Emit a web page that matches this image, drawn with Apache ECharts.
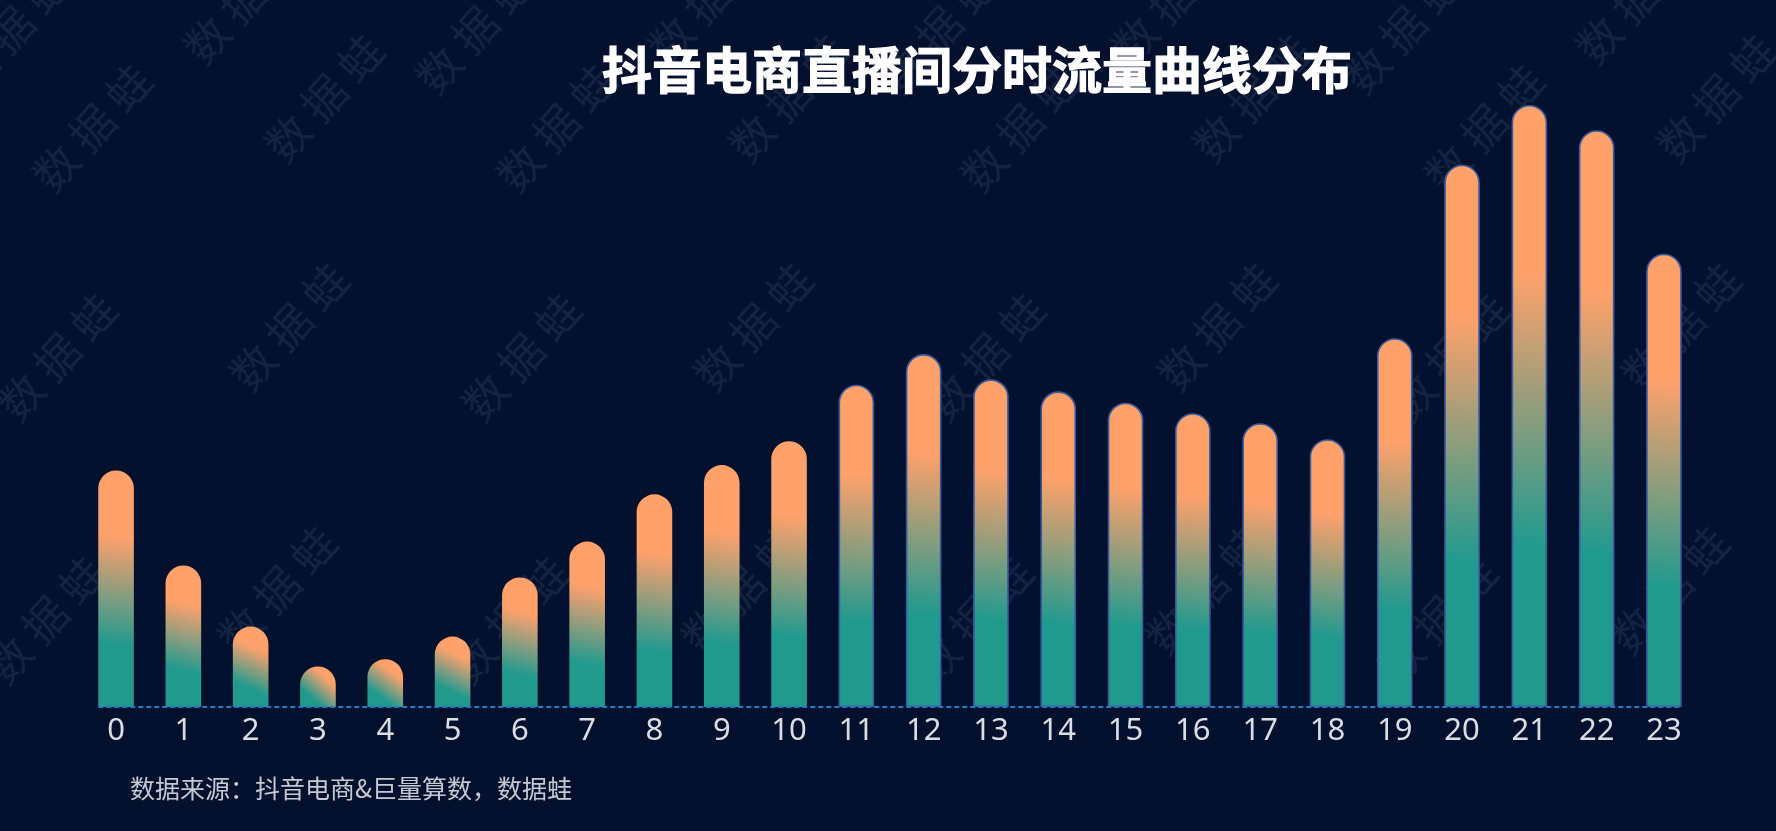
<!DOCTYPE html>
<html>
<head>
<meta charset="utf-8">
<script src="https://cdn.jsdelivr.net/npm/echarts@6/dist/echarts.min.js"></script>
<style>
html,body{margin:0;padding:0;background:#03112f;}
#chart{width:1776px;height:831px;}
</style>
</head>
<body>
<div id="chart"></div>
<script>
// ---- data ----
const titleText = '抖音电商直播间分时流量曲线分布';
const sourceText = '数据来源：抖音电商&巨量算数，数据蛙';
const watermarkText = '数 据 蛙';
const hours = ['0','1','2','3','4','5','6','7','8','9','10','11','12','13','14','15','16','17','18','19','20','21','22','23'];
const shares = [3.56, 2.13, 1.21, 0.61, 0.72, 1.06, 1.95, 2.49, 3.20, 3.64, 4.00, 4.85, 5.31, 4.93, 4.75, 4.58, 4.42, 4.27, 4.03, 5.55, 8.16, 9.06, 8.68, 6.82];

// ---- styling ----
const BAR_W = 35.6;
const gradient = new echarts.graphic.LinearGradient(0, 1, 1, 0, [
  {offset: 0, color: '#219a8e'},
  {offset: 0.27, color: '#219a8e'},
  {offset: 0.72, color: '#ffa16b'},
  {offset: 1, color: '#ffa16b'}
]);

const barData = shares.map((v, i) => ({
  value: v,
  itemStyle: i >= 11 ? {borderColor: '#3a5c9e', borderWidth: 1.6} : {borderWidth: 0}
}));

// watermark decoration (faint rotated text)
const wm = [];
const rows = [
  {y: 30, x0: 11},
  {y: 128, x0: 92},
  {y: 357, x0: 57},
  {y: 620, x0: 45}
];
rows.forEach((r) => {
  for (let x = r.x0; x < 1800; x += 232) {
    wm.push({
      type: 'text', z: 0, silent: true,
      x: x, y: r.y + ((Math.round((x - r.x0) / 232)) % 2 ? -30 : 0),
      rotation: Math.PI * 48 / 180,
      style: {
        text: watermarkText, fill: 'rgba(190,200,225,0.10)',
        font: 'normal 44px "Noto Sans CJK SC"',
        textAlign: 'center', textVerticalAlign: 'middle'
      }
    });
  }
});

const chart = echarts.init(document.getElementById('chart'));
chart.setOption({
  backgroundColor: '#03112f',
  animation: false,
  title: [
    {
      text: titleText, left: 597, top: 40,
      textStyle: {color: '#ffffff', fontSize: 50, fontWeight: 'bold', fontFamily: '"Noto Sans CJK SC"',
        textBorderColor: '#ffffff', textBorderWidth: 1.2}
    },
    {
      text: sourceText, left: 125, top: 771,
      textStyle: {color: '#c6c9d1', fontSize: 25, fontWeight: 'normal', fontFamily: '"Noto Sans CJK SC"'}
    }
  ],
  grid: {left: 82.4, right: 78.4, top: 42.44, bottom: 124},
  xAxis: {
    type: 'category',
    data: hours,
    boundaryGap: true,
    axisLine: {show: false},
    axisTick: {show: false},
    axisLabel: {color: '#dadde3', fontSize: 31, margin: 9, fontFamily: '"Noto Sans", "Open Sans", sans-serif'}
  },
  yAxis: {
    type: 'value', min: 0, max: 10, show: false,
    splitLine: {show: false}
  },
  graphic: wm,
  series: [{
    type: 'bar',
    data: barData,
    barWidth: BAR_W,
    z: 2,
    itemStyle: {
      color: gradient,
      borderRadius: [BAR_W / 2, BAR_W / 2, 0, 0]
    }
  }]
});

// dashed baseline spanning from the first bar's left edge to the last bar's right edge
const pA = chart.convertToPixel({gridIndex: 0}, [0, 0]);
const pB = chart.convertToPixel({gridIndex: 0}, [hours.length - 1, 0]);
chart.setOption({
  graphic: wm.concat([{
    type: 'line', z: 10, silent: true,
    shape: {x1: pA[0] - BAR_W / 2, y1: pA[1], x2: pB[0] + BAR_W / 2, y2: pB[1]},
    style: {stroke: '#1f7bc4', lineWidth: 2, lineDash: [5, 3]}
  }])
});
</script>
</body>
</html>
